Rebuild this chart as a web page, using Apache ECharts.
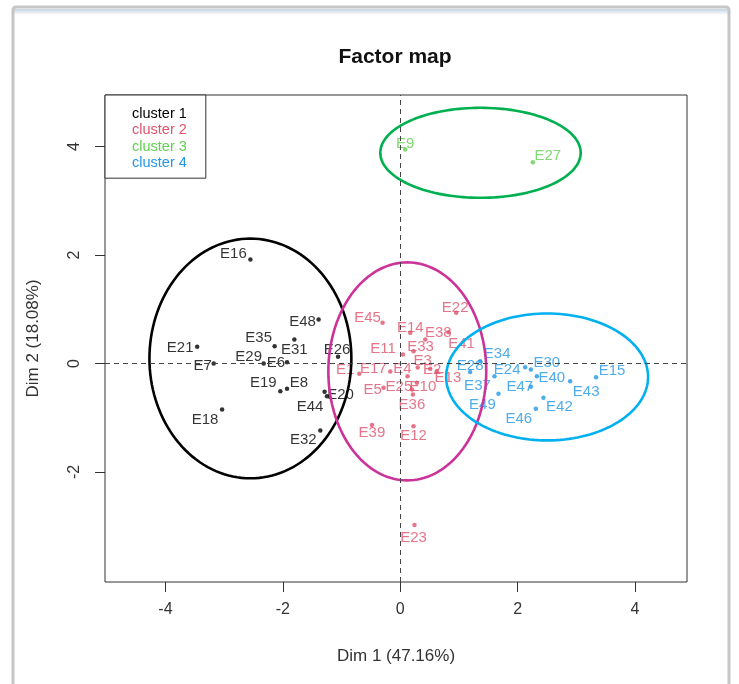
<!DOCTYPE html>
<html><head><meta charset="utf-8">
<script src="https://cdn.jsdelivr.net/npm/echarts@6/dist/echarts.min.js"></script>
<style>html,body{margin:0;padding:0;background:#fff}#c{width:739px;height:684px}</style>
</head><body><div id="c"></div>
<script>
// ---------- data ----------
const c1Names = ['E16','E48','E35','E31','E21','E7','E29','E6','E26','E19','E8','E20','E44','E18','E32'];
const c1X = [-2.553,-1.391,-2.140,-1.804,-3.460,-3.178,-2.327,-1.929,-1.060,-2.043,-1.929,-1.289,-1.248,-3.035,-1.362];
const c1Y = [1.917,0.811,0.319,0.442,0.308,0.000,0.000,0.024,0.123,-0.511,-0.466,-0.522,-0.603,-0.848,-1.235];

const c2Names = ['E22','E45','E14','E38','E41','E11','E33','E3','E2','E4','E13','E1','E17','E5','E25','E10','E36','E39','E12','E23'];
const c2X = [0.953,-0.301,0.170,0.426,0.822,0.046,0.226,0.298,0.511,0.124,0.625,-0.698,-0.170,-0.284,0.284,0.199,0.216,-0.482,0.226,0.243];
const c2Y = [0.935,0.750,0.566,0.442,0.577,0.166,0.227,-0.074,-0.098,-0.234,-0.142,-0.190,-0.147,-0.448,-0.356,-0.479,-0.571,-1.137,-1.156,-2.981];

const c3Names = ['E9','E27'];
const c3X = [0.085,2.259];
const c3Y = [3.945,3.711];

const c4Names = ['E34','E28','E37','E24','E30','E40','E49','E47','E42','E46','E43','E15'];
const c4X = [1.362,1.191,1.605,2.128,2.225,2.327,1.673,2.225,2.439,2.310,2.894,3.336];
const c4Y = [0.042,-0.160,-0.234,-0.068,-0.111,-0.234,-0.559,-0.429,-0.632,-0.835,-0.326,-0.253];

const clusterNames = ['cluster 1','cluster 2','cluster 3','cluster 4'];
const xTicks = [-4,-2,0,2,4];
const yTicks = [-2,0,2,4];

// ellipses drawn around the clusters (data units): black, pink, blue, green
const ellCx = [-2.553, 0.12, 2.502, 1.367];
const ellCy = [0.092, -0.147, -0.249, 3.884];
const ellRx = [1.72, 1.345, 1.72, 1.707];
const ellRy = [2.21, 2.01, 1.17, 0.83];

// ---------- styles ----------
const pointColors = ['#000000','#DF536B','#61D04F','#2297E6'];
const ellColors = ['#000000','#CC3399','#00B0F0','#00B050'];
// label offset (px) of each label centre relative to its point
const labelOffset = {
  E16:[-17,-6],E48:[-16,2],E35:[-16,-8],E31:[0,10],E21:[-17,1],E7:[-11,2],E29:[-15,-7],E6:[-11,1],
  E26:[-1,-7],E19:[-17,-8],E8:[12,-6],E20:[16,3],E44:[-17,11],E18:[-17,10],E32:[-17,9],
  E22:[-1,-5],E45:[-15,-5],E14:[0,-5],E38:[13,-7],E41:[13,12],E11:[-20,-6],E33:[7,-4],E3:[5,-7],
  E2:[2,1],E4:[-5,-7],E13:[11,7],E1:[-14,-4],E17:[-17,-3],E5:[-11,2],E25:[-18,4],E10:[11,-3],
  E36:[-1,10],E39:[0,8],E12:[0,10],E23:[-1,13],
  E9:[0,-6],E27:[15,-6],
  E34:[17,-7],E28:[0,-6],E37:[-17,10],E24:[-18,3],E30:[16,-7],E40:[15,2],E49:[-16,11],E47:[-11,0],
  E42:[16,9],E46:[-17,10],E43:[16,11],E15:[16,-6]
};

const FONT = '"Liberation Sans", Arial, sans-serif';

function makeSeries(idx, names, xs, ys) {
  return {
    name: clusterNames[idx],
    type: 'scatter',
    symbol: 'circle',
    symbolSize: 4.5,
    itemStyle: { color: pointColors[idx] },
    data: names.map((n, i) => ({
      name: n,
      value: [xs[i], ys[i]],
      label: { offset: labelOffset[n] || [0, 0] }
    })),
    label: {
      show: true, position: 'inside', formatter: '{b}',
      color: pointColors[idx], fontSize: 15, fontFamily: FONT,
      align: 'center', verticalAlign: 'middle'
    },
    emphasis: { disabled: true },
    z: 3
  };
}

const series = [
  makeSeries(0, c1Names, c1X, c1Y),
  makeSeries(1, c2Names, c2X, c2Y),
  makeSeries(2, c3Names, c3X, c3Y),
  makeSeries(3, c4Names, c4X, c4Y),
  {
    type: 'custom',
    name: 'ellipses',
    silent: true,
    z: 4,
    data: ellCx.map((cx, i) => [cx, ellCy[i], ellRx[i], ellRy[i], i]),
    encode: { x: 0, y: 1 },
    renderItem: function (params, api) {
      const cx = api.value(0), cy = api.value(1), rx = api.value(2), ry = api.value(3), k = api.value(4);
      const pts = [];
      for (let t = 0; t < 144; t++) {
        const a = t / 144 * Math.PI * 2;
        pts.push(api.coord([cx + rx * Math.cos(a), cy + ry * Math.sin(a)]));
      }
      return {
        type: 'polygon',
        shape: { points: pts },
        style: { fill: 'none', stroke: ellColors[k], lineWidth: 2.6 }
      };
    }
  },
  {
    type: 'scatter', data: [], silent: true,
    markLine: {
      silent: true, symbol: ['none', 'none'], animation: false,
      label: { show: false },
      lineStyle: { type: [5, 4], color: '#444', width: 1 },
      data: [{ xAxis: 0 }, { yAxis: 0 }]
    }
  }
];

const chart = echarts.init(document.getElementById('c'), null, { renderer: 'canvas' });
chart.setOption({
  animation: false,
  backgroundColor: '#ffffff',
  title: {
    text: 'Factor map', left: 390, top: 42, textAlign: 'center',
    textStyle: { fontFamily: FONT, fontSize: 21, fontWeight: 'bold', color: '#111' }
  },
  legend: {
    data: clusterNames.map((n, i) => ({ name: n, textStyle: { color: pointColors[i] } })),
    orient: 'vertical', left: 105, top: 95,
    itemWidth: 0, itemHeight: 0, itemGap: 0,
    padding: [11, 19, 7, 22],
    borderColor: '#333', borderWidth: 1,
    backgroundColor: '#fff',
    textStyle: { fontFamily: FONT, fontSize: 14.5, lineHeight: 16.3 },
    selectedMode: false
  },
  grid: { left: 105, right: 52, top: 95, bottom: 102, show: true, borderColor: '#333', borderWidth: 1 },
  xAxis: {
    type: 'value', min: -5.03, max: 4.885,
    name: 'Dim 1 (47.16%)', nameLocation: 'middle', nameGap: 66,
    nameTextStyle: { fontFamily: FONT, fontSize: 17, color: '#333' },
    splitLine: { show: false },
    axisLine: { show: false, onZero: false },
    axisTick: { show: true, customValues: xTicks, length: 10, lineStyle: { color: '#333' } },
    axisLabel: { customValues: xTicks, fontFamily: FONT, fontSize: 16, color: '#333', margin: 20 }
  },
  yAxis: {
    type: 'value', min: -4.03, max: 4.95,
    name: 'Dim 2 (18.08%)', nameLocation: 'middle', nameGap: 63,
    nameTextStyle: { fontFamily: FONT, fontSize: 17, color: '#333' },
    splitLine: { show: false },
    axisLine: { show: false, onZero: false },
    axisTick: { show: true, customValues: yTicks, length: 10, lineStyle: { color: '#333' } },
    axisLabel: { customValues: yTicks, rotate: 90, fontFamily: FONT, fontSize: 16, color: '#333', margin: 22 }
  },
  graphic: [
    { type: 'rect', z: -10, shape: { x: 14, y: 9, width: 714, height: 6 },
      style: { fill: new echarts.graphic.LinearGradient(0, 0, 0, 1, [{offset:0,color:'#c5d3e2'},{offset:1,color:'#ffffff'}]) } },
    { type: 'rect', z: -9, shape: { x: 13, y: 7, width: 716, height: 700, r: 3 },
      style: { fill: 'none', stroke: '#c6c6c6', lineWidth: 3 } }
  ],
  series: series
});
</script>
</body></html>
